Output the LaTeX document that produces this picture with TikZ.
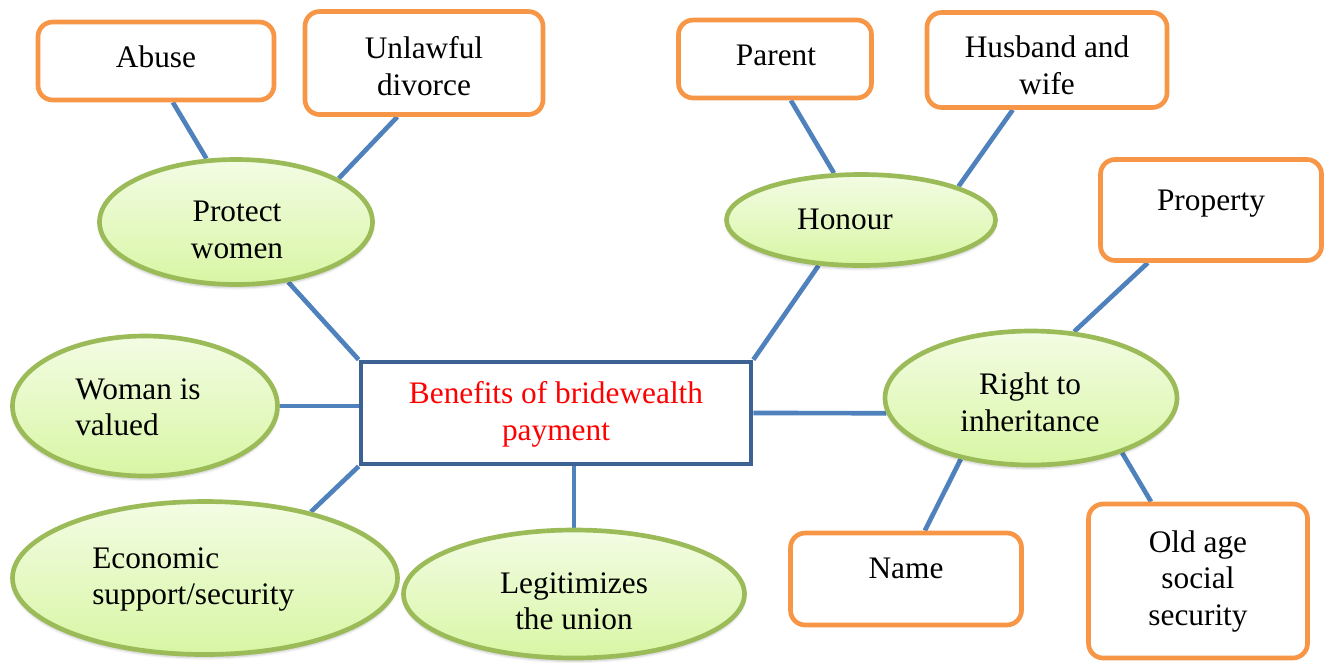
\documentclass[tikz,border=0pt]{standalone}
\usepackage{fontspec}
\setmainfont{Liberation Serif}
\usetikzlibrary{shapes.geometric,calc,backgrounds,shadows.blur}

\definecolor{linkblue}{HTML}{4F81BD}
\definecolor{hubblue}{HTML}{3C6193}
\definecolor{leaforange}{HTML}{F79646}
\definecolor{ovalgreen}{HTML}{9BBB59}
\definecolor{ovaltop}{HTML}{F3FCE4}
\definecolor{ovalbottom}{HTML}{D8F6A4}

\tikzset{
  leaf/.style={draw=leaforange, line width=3.5pt, rounded corners=11pt, fill=white, inner sep=0pt},
  oval/.style={ellipse, draw=ovalgreen, line width=3.5pt, inner sep=0pt,
    top color=ovaltop, bottom color=ovalbottom,
    blur shadow={shadow xshift=0pt, shadow yshift=-2.5pt, shadow opacity=22, shadow blur steps=6}},
  hub/.style={draw=hubblue, line width=3.5pt, fill=white, inner sep=0pt},
  label text/.style={font=\fontsize{23.5}{27.5}\selectfont, align=center, inner sep=0pt, text depth=0pt},
  link/.style={draw=linkblue, line width=3.5pt}
}

\begin{document}
\begin{tikzpicture}[x=0.75pt, y=-0.75pt]
\useasboundingbox (0,0) rectangle (1330,662);

% central box
\node[hub, minimum width=292.5pt, minimum height=76.5pt] (cb) at (556,413) {};
\node[label text, text=red] (cbt) at (556,411) {Benefits of bridewealth\\payment};

% green ovals
\node[oval, minimum width=204.75pt, minimum height=93.75pt] (pw) at (236,222) {};
\node[label text] (pwt) at (237,230) {Protect\\women};
\node[oval, minimum width=201.75pt, minimum height=68.25pt] (ho) at (861,220) {};
\node[label text] (hot) at (845,219) {Honour};
\node[oval, minimum width=219pt, minimum height=100.5pt] (ri) at (1031,398) {};
\node[label text] (rit) at (1030,402) {Right to\\inheritance};
\node[oval, minimum width=198.75pt, minimum height=105pt] (wv) at (145,406) {};
\node[label text, align=left, anchor=west] (wvt) at (75,407) {Woman is\\valued};
\node[oval, minimum width=288.75pt, minimum height=114.75pt] (es) at (205,578) {};
\node[label text, align=left, anchor=west] (est) at (92,576) {Economic\\support/security};
\node[oval, minimum width=255.75pt, minimum height=96pt] (lu) at (574,594) {};
\node[label text] (lut) at (574,601) {Legitimizes\\the union};

% orange boxes
\node[leaf, minimum width=177pt, minimum height=58.5pt] (ab) at (156,61) {};
\node[label text] (abt) at (156,57) {Abuse};
\node[leaf, minimum width=178.5pt, minimum height=77.25pt] (ud) at (424,63) {};
\node[label text] (udt) at (424,66) {Unlawful\\divorce};
\node[leaf, minimum width=144.75pt, minimum height=58.5pt] (pa) at (775,59) {};
\node[label text] (pat) at (776,55) {Parent};
\node[leaf, minimum width=180pt, minimum height=71.25pt] (hw) at (1047,60) {};
\node[label text] (hwt) at (1047,65) {Husband and\\wife};
\node[leaf, minimum width=165.75pt, minimum height=75.75pt] (pr) at (1211,210) {};
\node[label text] (prt) at (1211,200) {Property};
\node[leaf, minimum width=173.25pt, minimum height=69pt] (na) at (906,579) {};
\node[label text] (nat) at (906,568) {Name};
\node[leaf, minimum width=164.25pt, minimum height=115.5pt] (oa) at (1198,581) {};
\node[label text] (oat) at (1198,578) {Old age\\social\\security};

% connectors
\begin{scope}[on background layer]
  \draw[link] ($(ab.south west)!0.57!(ab.south east)$) -- (pw.115);
  \draw[link] ($(ud.south west)!0.39!(ud.south east)$) -- (pw.23);
  \draw[link] ($(pa.south west)!0.58!(pa.south east)$) -- (ho.120);
  \draw[link] ($(hw.south west)!0.36!(hw.south east)$) -- (ho.19);
  \draw[link] ($(pr.south west)!0.22!(pr.south east)$) -- (ri.57);
  \draw[link] (ri.221) -- ($(na.north west)!0.58!(na.north east)$);
  \draw[link] (ri.329) -- ($(oa.north west)!0.29!(oa.north east)$);
  \draw[link] (ho.227) -- (cb.north east);
  \draw[link] (pw.311) -- (cb.north west);
  \draw[link] (wv.east) -- (wv.east -| cb.west);
  \draw[link] (cb.east) -- (ri.186);
  \draw[link] (cb.south west) -- (es.32);
  \draw[link] (lu.north) -- (lu.north |- cb.south);
\end{scope}
\end{tikzpicture}
\end{document}
